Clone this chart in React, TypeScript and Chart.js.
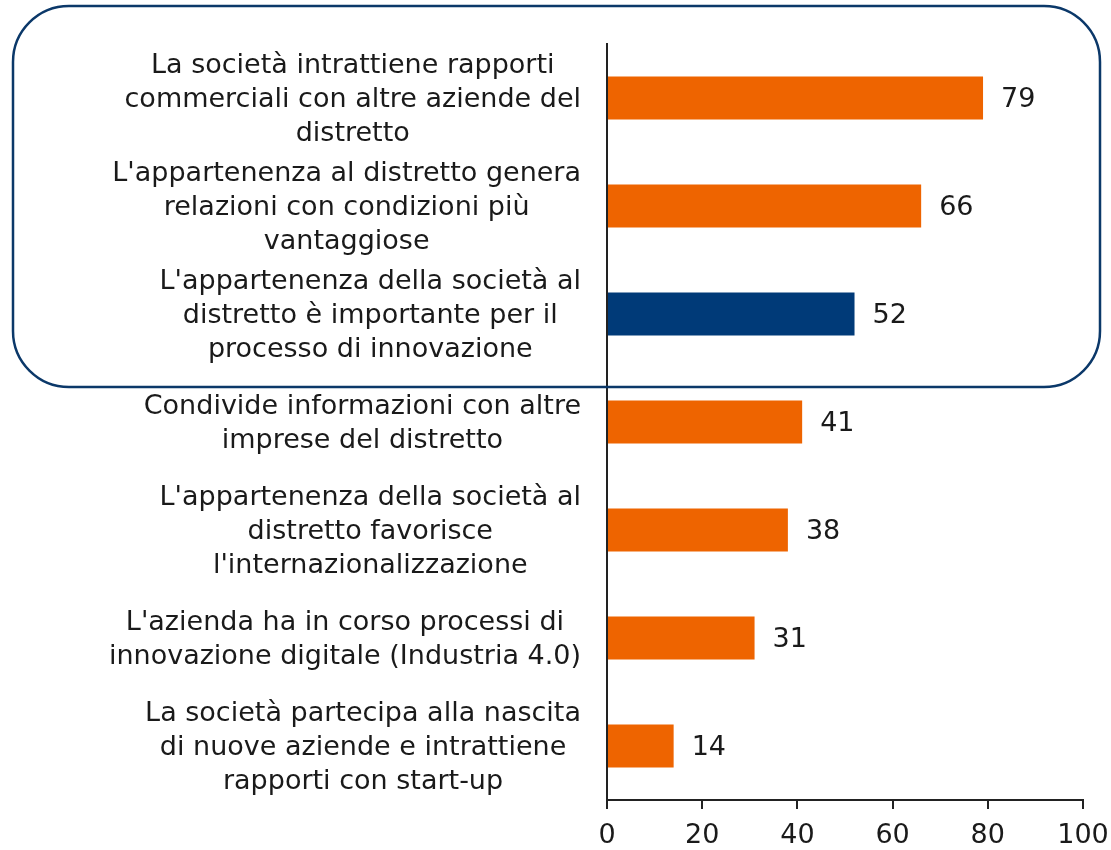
import React, { useEffect, useRef } from "react";
import { Chart, registerables } from "chart.js";

Chart.register(...registerables);

const categories: string[][] = [
  ["La società intrattiene rapporti", "commerciali con altre aziende del", "distretto"],
  ["L'appartenenza al distretto genera", "relazioni con condizioni più", "vantaggiose"],
  ["L'appartenenza della società al", "distretto è importante per il", "processo di innovazione"],
  ["Condivide informazioni con altre", "imprese del distretto"],
  ["L'appartenenza della società al", "distretto favorisce", "l'internazionalizzazione"],
  ["L'azienda ha in corso processi di", "innovazione digitale (Industria 4.0)"],
  ["La società partecipa alla nascita", "di nuove aziende e intrattiene", "rapporti con start-up"],
];
const values: number[] = [79, 66, 52, 41, 38, 31, 14];
const highlightIndex = 2;
const xTicks: number[] = [0, 20, 40, 60, 80, 100];

const ORANGE = "#EE6400";
const NAVY = "#003A78";
const FRAME = "#0B3869";
const TEXT = "#1a1a1a";
const FONT = "'DejaVu Sans', sans-serif";
const FONT_SIZE = 27;

const labelsPlugin = {
  id: "customLabels",
  afterDraw(chart: any) {
    const ctx = chart.ctx as CanvasRenderingContext2D;
    const yScale = chart.scales.y;
    const meta = chart.getDatasetMeta(0);
    ctx.save();
    ctx.font = `${FONT_SIZE}px ${FONT}`;
    ctx.fillStyle = TEXT;
    ctx.textBaseline = "middle";
    const rightEdge = yScale.right - 26;
    const lineH = 34;
    categories.forEach((lines, i) => {
      const cy = yScale.getPixelForValue(i) + 2;
      let maxW = 0;
      lines.forEach((l) => (maxW = Math.max(maxW, ctx.measureText(l).width)));
      const cx = rightEdge - maxW / 2;
      ctx.textAlign = "center";
      lines.forEach((l, k) => {
        const y = cy + (k - (lines.length - 1) / 2) * lineH;
        ctx.fillText(l, cx, y);
      });
    });
    // value labels
    ctx.textAlign = "left";
    meta.data.forEach((bar: any, i: number) => {
      ctx.fillText(String(values[i]), bar.x + 18, bar.y + 2);
    });
    // rounded frame
    const x0 = 13, y0 = 6, x1 = 1100, y1 = 387, r = 56;
    ctx.beginPath();
    ctx.moveTo(x0 + r, y0);
    ctx.lineTo(x1 - r, y0);
    ctx.arcTo(x1, y0, x1, y0 + r, r);
    ctx.lineTo(x1, y1 - r);
    ctx.arcTo(x1, y1, x1 - r, y1, r);
    ctx.lineTo(x0 + r, y1);
    ctx.arcTo(x0, y1, x0, y1 - r, r);
    ctx.lineTo(x0, y0 + r);
    ctx.arcTo(x0, y0, x0 + r, y0, r);
    ctx.closePath();
    ctx.strokeStyle = FRAME;
    ctx.lineWidth = 2.5;
    ctx.stroke();
    ctx.restore();
  },
};

export default function App() {
  const ref = useRef<HTMLCanvasElement | null>(null);
  useEffect(() => {
    if (!ref.current) return;
    const chart = new Chart(ref.current, {
      type: "bar",
      data: {
        labels: categories.map((c) => c.join(" ")),
        datasets: [
          {
            data: values,
            backgroundColor: values.map((_, i) => (i === highlightIndex ? NAVY : ORANGE)),
            barPercentage: 0.4,
            categoryPercentage: 1,
            borderWidth: 0,
          },
        ],
      },
      options: {
        indexAxis: "y",
        responsive: false,
        animation: false,
        layout: { padding: { top: 44, right: 28, left: 0, bottom: 0 } },
        plugins: { legend: { display: false }, tooltip: { enabled: false }, title: { display: false } },
        scales: {
          y: {
            ticks: { display: false },
            grid: { display: false },
            border: { display: true, color: "#222", width: 2 },
            afterFit: (s: any) => {
              s.width = 607;
              s.paddingTop = 0;
              s.paddingBottom = 0;
            },
          },
          x: {
            min: 0,
            max: 100,
            afterBuildTicks: (s: any) => {
              s.ticks = xTicks.map((v) => ({ value: v }));
            },
            ticks: {
              font: { family: FONT, size: FONT_SIZE },
              color: TEXT,
              padding: 11,
              maxRotation: 0,
            },
            grid: { drawOnChartArea: false, drawTicks: true, tickLength: 9, color: "#222", lineWidth: 2 },
            border: { display: true, color: "#222", width: 2 },
            afterFit: (s: any) => {
              s.height = 50;
              s.paddingLeft = 0;
              s.paddingRight = 0;
            },
          },
        },
      },
      plugins: [labelsPlugin],
    });
    return () => chart.destroy();
  }, []);
  return (
    <div style={{ position: "absolute", left: 0, top: 0, width: 1111, height: 850, background: "#fff" }}>
      <canvas ref={ref} width={1111} height={850} />
    </div>
  );
}
